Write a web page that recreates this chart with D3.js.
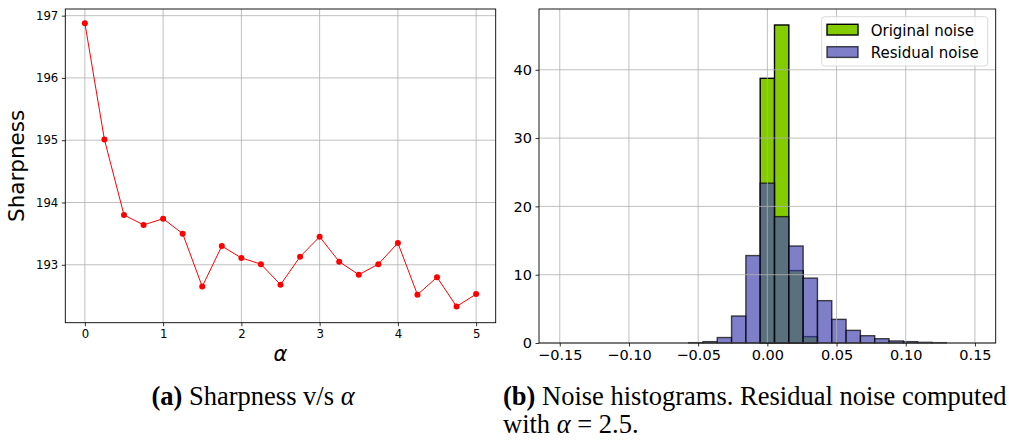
<!DOCTYPE html>
<html>
<head>
<meta charset="utf-8">
<script src="https://cdn.jsdelivr.net/npm/d3@7"></script>
<style>
body{margin:0;background:#fff;}
svg{display:block;}
</style>
</head>
<body>
<script>
// left panel: sharpness vs alpha
var alphas=[0,0.25,0.5,0.75,1,1.25,1.5,1.75,2,2.25,2.5,2.75,3,3.25,3.5,3.75,4,4.25,4.5,4.75,5];
var sharpness=[196.88,195.01,193.80,193.64,193.74,193.50,192.65,193.30,193.11,193.01,192.68,193.13,193.45,193.05,192.84,193.01,193.35,192.52,192.80,192.33,192.53];
var leftXTicks=[0,1,2,3,4,5];
var leftYTicks=[193,194,195,196,197];

// right panel: histograms (29 bins over the range)
var histRange=[-0.15,0.15];
var originalNoise=[0,0,0,0,0,0,0,0,0,0,0,0,0,0,38.75,46.56,10.6,0.93,0,0,0,0,0,0,0,0,0,0,0];
var residualNoise=[0,0,0,0,0,0,0,0,0,0.05,0.2,0.8,3.95,12.8,23.4,18.5,14.2,9.5,6.2,3.46,1.85,1.07,0.63,0.3,0.2,0.1,0.05,0,0];
var rightXTicks=[-0.15,-0.10,-0.05,0,0.05,0.10,0.15];
var rightYTicks=[0,10,20,30,40];
var legendLabels=["Original noise","Residual noise"];

var svg=d3.select("body").append("svg").attr("width",1009).attr("height",442);
var font="DejaVu Sans";

// ---------- left ----------
var L={x0:65.3,x1:495.7,y0:9,y1:322.7};
var lx=d3.scaleLinear().domain([-0.25,5.25]).range([L.x0,L.x1]);
var ly=d3.scaleLinear().domain([192.07,197.107]).range([L.y1,L.y0]);
var lg=svg.append("g");

lg.selectAll(".vg").data(leftXTicks).enter().append("line")
 .attr("x1",d=>lx(d)).attr("x2",d=>lx(d)).attr("y1",L.y0).attr("y2",L.y1)
 .attr("stroke","#b0b0b0").attr("stroke-width",0.8);
lg.selectAll(".hg").data(leftYTicks).enter().append("line")
 .attr("y1",d=>ly(d)).attr("y2",d=>ly(d)).attr("x1",L.x0).attr("x2",L.x1)
 .attr("stroke","#b0b0b0").attr("stroke-width",0.8);

var lxa=lg.append("g").attr("transform","translate(0,"+L.y1+")")
 .call(d3.axisBottom(lx).tickValues(leftXTicks).tickFormat(d3.format("d")).tickSizeOuter(0).tickSize(3.5).tickPadding(3.5));
var lya=lg.append("g").attr("transform","translate("+L.x0+",0)")
 .call(d3.axisLeft(ly).tickValues(leftYTicks).tickFormat(d3.format("d")).tickSizeOuter(0).tickSize(3.5).tickPadding(3.5));
[lxa,lya].forEach(function(a){
 a.select(".domain").remove();
 a.selectAll("text").attr("font-family",font).attr("font-size","11.7px").attr("fill","#000");
 a.selectAll("line").attr("stroke","#000").attr("stroke-width",0.8);
});

lg.append("path").datum(alphas.map((a,i)=>[a,sharpness[i]]))
 .attr("d",d3.line().x(d=>lx(d[0])).y(d=>ly(d[1])))
 .attr("fill","none").attr("stroke","#ff0000").attr("stroke-width",1);
lg.selectAll(".pt").data(alphas).enter().append("circle")
 .attr("cx",d=>lx(d)).attr("cy",(d,i)=>ly(sharpness[i])).attr("r",3)
 .attr("fill","#ff0000");

lg.append("rect").attr("x",L.x0).attr("y",L.y0).attr("width",L.x1-L.x0).attr("height",L.y1-L.y0)
 .attr("fill","none").attr("stroke","#000").attr("stroke-width",0.9);

lg.append("text").attr("transform","translate(24,"+((L.y0+L.y1)/2)+") rotate(-90)")
 .attr("text-anchor","middle").attr("font-family",font).attr("font-size","21.5px").text("Sharpness");
lg.append("text").attr("x",(L.x0+L.x1)/2).attr("y",361).attr("text-anchor","middle")
 .attr("font-family",font).attr("font-style","italic").attr("font-size","21px").text("α");

// ---------- right ----------
var R={x0:539,x1:995.7,y0:9,y1:343};
var rx=d3.scaleLinear().domain([-0.165,0.165]).range([R.x0,R.x1]);
var ry=d3.scaleLinear().domain([0,48.9]).range([R.y1,R.y0]);
var nb=originalNoise.length, bw=(histRange[1]-histRange[0])/nb;
var rg=svg.append("g");

rg.selectAll(".ob").data(originalNoise).enter().append("rect")
 .attr("x",(d,i)=>rx(histRange[0]+i*bw)).attr("width",(d,i)=>rx(histRange[0]+(i+1)*bw)-rx(histRange[0]+i*bw))
 .attr("y",d=>ry(d)).attr("height",d=>ry(0)-ry(d))
 .attr("fill","#84cc00").attr("stroke","#000").attr("stroke-width",1.4);
rg.selectAll(".rb").data(residualNoise).enter().append("rect")
 .attr("x",(d,i)=>rx(histRange[0]+i*bw)).attr("width",(d,i)=>rx(histRange[0]+(i+1)*bw)-rx(histRange[0]+i*bw))
 .attr("y",d=>ry(d)).attr("height",d=>ry(0)-ry(d))
 .attr("fill","rgb(72,72,178)").attr("fill-opacity",0.7)
 .attr("stroke","#000").attr("stroke-opacity",0.7).attr("stroke-width",1.4);

rg.selectAll(".vg").data(rightXTicks).enter().append("line")
 .attr("x1",d=>rx(d)).attr("x2",d=>rx(d)).attr("y1",R.y0).attr("y2",R.y1)
 .attr("stroke","#b0b0b0").attr("stroke-width",0.8);
rg.selectAll(".hg").data(rightYTicks).enter().append("line")
 .attr("y1",d=>ry(d)).attr("y2",d=>ry(d)).attr("x1",R.x0).attr("x2",R.x1)
 .attr("stroke","#b0b0b0").attr("stroke-width",0.8);

var rxa=rg.append("g").attr("transform","translate(0,"+R.y1+")")
 .call(d3.axisBottom(rx).tickValues(rightXTicks).tickFormat(d=>d3.format(".2f")(d).replace("-","\u2212")).tickSizeOuter(0).tickSize(3.5).tickPadding(3.5));
var rya=rg.append("g").attr("transform","translate("+R.x0+",0)")
 .call(d3.axisLeft(ry).tickValues(rightYTicks).tickFormat(d3.format("d")).tickSizeOuter(0).tickSize(3.5).tickPadding(3.5));
[rxa,rya].forEach(function(a){
 a.select(".domain").remove();
 a.selectAll("text").attr("font-family",font).attr("font-size","14.5px").attr("fill","#000");
 a.selectAll("line").attr("stroke","#000").attr("stroke-width",0.8);
});

rg.append("rect").attr("x",R.x0).attr("y",R.y0).attr("width",R.x1-R.x0).attr("height",R.y1-R.y0)
 .attr("fill","none").attr("stroke","#000").attr("stroke-width",0.9);

// legend
var leg=rg.append("g");
leg.append("rect").attr("x",821.7).attr("y",16.7).attr("width",166).attr("height",49.3).attr("rx",3)
 .attr("fill","#fff").attr("fill-opacity",0.8).attr("stroke","#d0d0d0").attr("stroke-width",0.8);
var legFill=[{f:"#84cc00",o:1,s:1},{f:"rgb(72,72,178)",o:0.7,s:0.7}];
leg.selectAll(".lp").data(legendLabels).enter().append("rect")
 .attr("x",827).attr("y",(d,i)=>24.3+i*22.4).attr("width",31).attr("height",10.7)
 .attr("fill",(d,i)=>legFill[i].f).attr("fill-opacity",(d,i)=>legFill[i].o)
 .attr("stroke","#000").attr("stroke-opacity",(d,i)=>legFill[i].s).attr("stroke-width",1.4);
leg.selectAll(".lt").data(legendLabels).enter().append("text")
 .attr("x",870.7).attr("y",(d,i)=>35.5+i*22.4)
 .attr("font-family",font).attr("font-size","15px").text(d=>d);

// captions
var serif="Liberation Serif";
var c1=svg.append("text").attr("x",253).attr("y",405).attr("text-anchor","middle")
 .attr("font-family",serif).attr("font-size","26.5px");
c1.append("tspan").attr("font-weight","bold").text("(a)");
c1.append("tspan").text(" Sharpness v/s ");
c1.append("tspan").attr("font-style","italic").text("α");

var c2=svg.append("text").attr("x",503).attr("y",405).attr("font-family",serif).attr("font-size","26.5px");
c2.append("tspan").attr("font-weight","bold").text("(b)");
c2.append("tspan").text(" Noise histograms. Residual noise computed");
var c3=svg.append("text").attr("x",503).attr("y",433).attr("font-family",serif).attr("font-size","26.5px");
c3.append("tspan").text("with ");
c3.append("tspan").attr("font-style","italic").text("α");
c3.append("tspan").text(" = 2.5.");
</script>
</body>
</html>
